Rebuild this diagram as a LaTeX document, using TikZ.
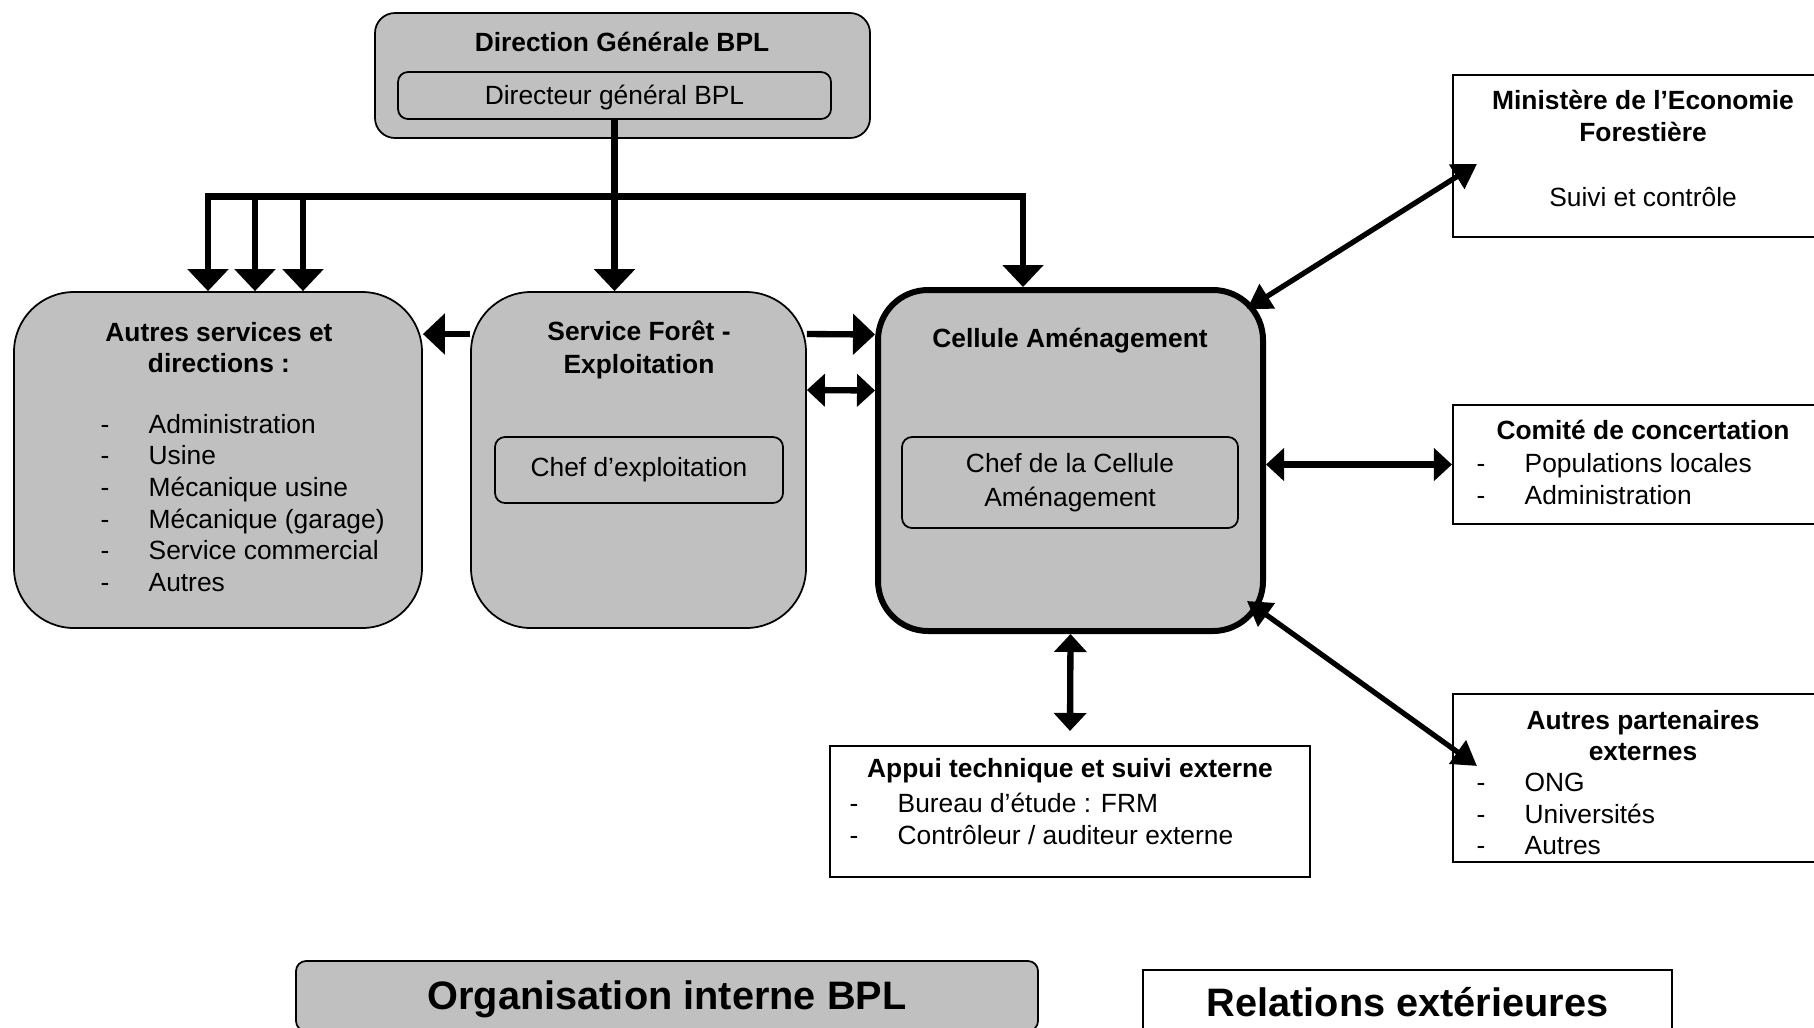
\documentclass[tikz,border=0pt]{standalone}
\usepackage{fontspec}
\setmainfont{Liberation Sans}
\usetikzlibrary{arrows.meta}
\definecolor{boxgray}{RGB}{192,192,192}
\newcommand{\tiret}{\makebox[0.48cm][l]{-}}

\begin{document}
\begin{tikzpicture}[
  every node/.style={font=\fontsize{7.5}{9}\selectfont, inner sep=0},
  box/.style={draw, line width=0.5pt, fill=boxgray, rounded corners=0.6cm},
  inbox/.style={draw, line width=0.5pt, fill=boxgray, rounded corners=0.1cm},
  extbox/.style={draw, line width=0.6pt, fill=white},
  ttl/.style={font=\fontsize{7.5}{9}\selectfont\bfseries, align=center},
  lst/.style={align=left, anchor=west},
  big/.style={font=\fontsize{11.3}{13}\selectfont\bfseries},
  arr/.style={line width=1.8pt, -{Triangle[width=0.40cm,length=0.22cm]}},
  dbl/.style={line width=1.8pt, {Triangle[width=0.32cm,length=0.18cm]}-{Triangle[width=0.32cm,length=0.18cm]}},
  dgl/.style={line width=1.5pt, {Triangle[width=0.28cm,length=0.24cm]}-{Triangle[width=0.28cm,length=0.24cm]}},
]
  \useasboundingbox (0,0) rectangle (18.14,-10.27);

  % direction generale
  \node[box, rounded corners=0.2cm, minimum width=4.95cm, minimum height=1.25cm] (dg) at (6.225,-0.755) {};
  \node[ttl] (dgt) at (6.22,-0.42) {Direction Générale BPL};
  \node[inbox, text depth=0.02cm, minimum width=4.33cm, minimum height=0.47cm] (dgin) at (6.145,-0.955) {Directeur général BPL};

  % internal services
  \node[box, minimum width=4.08cm, minimum height=3.36cm] (as) at (2.18,-4.60) {};
  \node[ttl] (ast) at (2.19,-3.475) {Autres services et\\directions :};
  \node[lst] (asl) at (1.00,-5.03) {\tiret Administration\\\tiret Usine\\\tiret Mécanique usine\\\tiret Mécanique (garage)\\\tiret Service commercial\\\tiret Autres};

  \node[box, minimum width=3.35cm, minimum height=3.36cm] (sf) at (6.385,-4.60) {};
  \node[ttl, font=\fontsize{7.5}{9.3}\selectfont\bfseries] (sft) at (6.39,-3.50) {Service Forêt -\\Exploitation};
  \node[inbox, minimum width=2.88cm, minimum height=0.66cm] (sfin) at (6.39,-4.70) {Chef d’exploitation};

  \node[box, line width=1.7pt, rounded corners=0.5cm, minimum width=3.85cm, minimum height=3.41cm] (ca) at (10.705,-4.605) {};
  \node[ttl] (cat) at (10.70,-3.41) {Cellule Aménagement};
  \node[inbox, align=center, font=\fontsize{7.5}{9.8}\selectfont, minimum width=3.36cm, minimum height=0.91cm] (cain) at (10.70,-4.825) {Chef de la Cellule\\Aménagement};

  % external partners
  \node[extbox, minimum width=3.67cm, minimum height=1.62cm] (min) at (16.365,-1.56) {};
  \node[ttl] (mint) at (16.43,-1.16) {Ministère de l’Economie\\Forestière};
  \node (mins) at (16.43,-1.97) {Suivi et contrôle};

  \node[extbox, minimum width=3.67cm, minimum height=1.19cm] (com) at (16.365,-4.645) {};
  \node[ttl] (comt) at (16.43,-4.30) {Comité de concertation};
  \node[lst] (coml) at (14.76,-4.79) {\tiret Populations locales\\\tiret Administration};

  \node[extbox, minimum width=3.67cm, minimum height=1.68cm] (ap) at (16.365,-7.78) {};
  \node[ttl] (apt) at (16.43,-7.355) {Autres partenaires\\externes};
  \node[lst] (apl) at (14.76,-8.14) {\tiret ONG\\\tiret Universités\\\tiret Autres};

  \node[extbox, minimum width=4.80cm, minimum height=1.31cm] (appui) at (10.70,-8.115) {};
  \node[ttl] (appt) at (10.70,-7.71) {Appui technique et suivi externe};
  \node[lst] (appl) at (8.49,-8.19) {\tiret Bureau d’étude : FRM\\\tiret Contrôleur / auditeur externe};

  % legend
  \node[inbox, big, minimum width=7.42cm, minimum height=0.70cm] (org) at (6.67,-9.96) {};
  \node[big] (orgt) at (6.67,-9.995) {Organisation interne BPL};
  \node[extbox, big, line width=0.8pt, minimum width=5.29cm, minimum height=0.64cm] (rel) at (14.075,-10.02) {Relations extérieures};

  % hierarchy
  \coordinate (bar) at (6.145,-1.965);
  \draw[arr] (dgin.south) -- (dgin.south |- sf.north);
  \draw[arr] (bar) -| ([xshift=-0.10cm]as.north);
  \draw[arr] ([xshift=0.37cm]as.north |- bar) -- ([xshift=0.37cm]as.north);
  \draw[arr] ([xshift=0.85cm]as.north |- bar) -- ([xshift=0.85cm]as.north);
  \draw[arr] (bar) -| ([xshift=-0.475cm]ca.north);

  % between services
  \draw[arr] ([yshift=1.26cm]sf.west) -- ([yshift=1.26cm]as.east);
  \draw[arr] ([yshift=1.26cm]sf.east) -- ([yshift=1.26cm]ca.west);
  \draw[dbl] ([yshift=0.70cm]sf.east) -- ([yshift=0.70cm]ca.west);

  % outside relations
  \draw[dgl] ([shift={(-0.19,-0.22)}]ca.north east) -- ([shift={(0.25,-0.90)}]min.north west);
  \draw[dbl] (ca.east |- com.west) -- (com.west);
  \draw[dgl] ([shift={(-0.19,0.33)}]ca.south east) -- ([shift={(0.25,-0.73)}]ap.north west);
  \draw[dbl] (ca.south) -- ([yshift=0.14cm]appui.north);

\end{tikzpicture}
\end{document}
